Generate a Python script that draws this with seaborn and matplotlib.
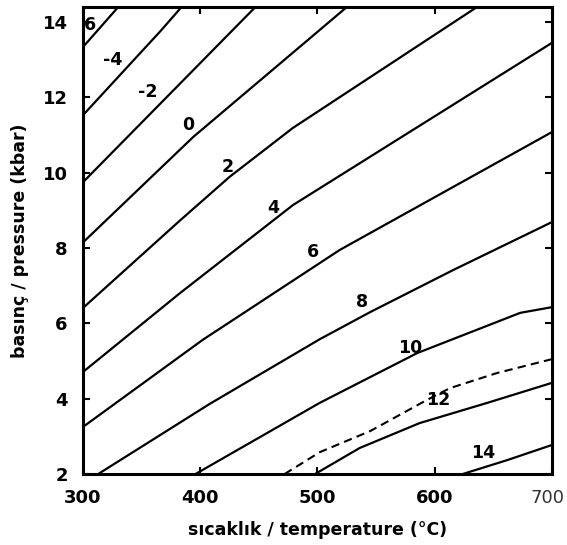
import matplotlib
matplotlib.use('Agg')
import matplotlib.pyplot as plt
import matplotlib.transforms as mtransforms
import seaborn as sns

sns.set_theme(style='white')
plt.rcParams['font.family'] = ['DejaVu Sans']
plt.rcParams['text.color'] = 'black'
plt.rcParams['axes.labelcolor'] = 'black'

# isopleths: temperature (C) and pressure (kbar) per line
t_m6 = [300, 330]
p_m6 = [13.34, 14.4]
t_m4 = [300, 366, 384]
p_m4 = [11.53, 13.76, 14.4]
t_m2 = [300, 447]
p_m2 = [9.75, 14.4]
t_0 = [300, 394, 525]
p_0 = [8.15, 10.95, 14.4]
t_2 = [300, 383, 425, 479, 636]
p_2 = [6.41, 8.74, 9.89, 11.19, 14.4]
t_4 = [300, 383, 479, 700]
p_4 = [4.71, 6.81, 9.14, 13.45]
t_6 = [300, 402, 519, 700]
p_6 = [3.25, 5.56, 7.95, 11.08]
t_8 = [313, 408, 502, 545, 616, 700]
p_8 = [2.0, 3.86, 5.58, 6.30, 7.42, 8.69]
t_10 = [396, 502, 585, 673, 700]
p_10 = [2.0, 3.89, 5.21, 6.28, 6.43]
t_11 = [472, 502, 545, 593, 613, 653, 700]
p_11 = [2.0, 2.58, 3.14, 3.96, 4.28, 4.68, 5.05]
t_12 = [498, 536, 587, 645, 700]
p_12 = [2.0, 2.69, 3.35, 3.89, 4.42]
t_14 = [624, 662, 700]
p_14 = [2.0, 2.37, 2.77]

solid_lines = [(t_m6, p_m6), (t_m4, p_m4), (t_m2, p_m2), (t_0, p_0), (t_2, p_2),
               (t_4, p_4), (t_6, p_6), (t_8, p_8), (t_10, p_10), (t_12, p_12),
               (t_14, p_14)]

# line labels and where they sit
label_text = ['6', '-4', '-2', '0', '2', '4', '6', '8', '10', '12', '14']
label_t = [306, 325, 355, 390, 423, 462, 496, 538, 579, 603, 641]
label_p = [13.92, 12.99, 12.14, 11.27, 10.15, 9.06, 7.9, 6.57, 5.35, 3.96, 2.56]

x_ticks = [300, 400, 500, 600, 700]
y_ticks = [2, 4, 6, 8, 10, 12, 14]

fig = plt.figure(figsize=(5.67, 5.45), dpi=100)
ax = fig.add_axes([0.1464, 0.1303, 0.827, 0.8567])

for t, p in solid_lines:
    sns.lineplot(x=t, y=p, ax=ax, color='black', linewidth=1.6, sort=False, estimator=None)
sns.lineplot(x=t_11, y=p_11, ax=ax, color='black', linewidth=1.5, sort=False,
             estimator=None, linestyle=(0, (4, 2.5)))

for s, t, p in zip(label_text, label_t, label_p):
    ax.text(t, p, s, fontsize=12.5, fontweight='bold', ha='center', va='center', color='black')

ax.set_xlim(300, 700)
ax.set_ylim(2, 14.4)
ax.set_xticks(x_ticks)
ax.set_yticks(y_ticks)
ax.set_xticklabels([str(v) for v in x_ticks], fontsize=13, fontweight='bold')
ax.set_yticklabels([str(v) for v in y_ticks], fontsize=13, fontweight='bold')
ax.tick_params(direction='in', length=5, width=1.5, top=True, right=True,
               bottom=True, left=True, colors='black', pad=11)

# the last x label is lighter and sits a little left
last = ax.get_xticklabels()[-1]
last.set_fontweight('normal')
last.set_color('#333333')
last.set_transform(last.get_transform() + mtransforms.ScaledTranslation(-4 / 100, 0, fig.dpi_scale_trans))

for sp in ax.spines.values():
    sp.set_linewidth(2.2)
    sp.set_color('black')

ax.set_xlabel('sıcaklık / temperature (°C)', fontsize=12.5, fontweight='bold', labelpad=10)
ax.set_ylabel('basınç / pressure (kbar)', fontsize=12.5, fontweight='bold', labelpad=10)

fig.savefig('out.png', dpi=100)
